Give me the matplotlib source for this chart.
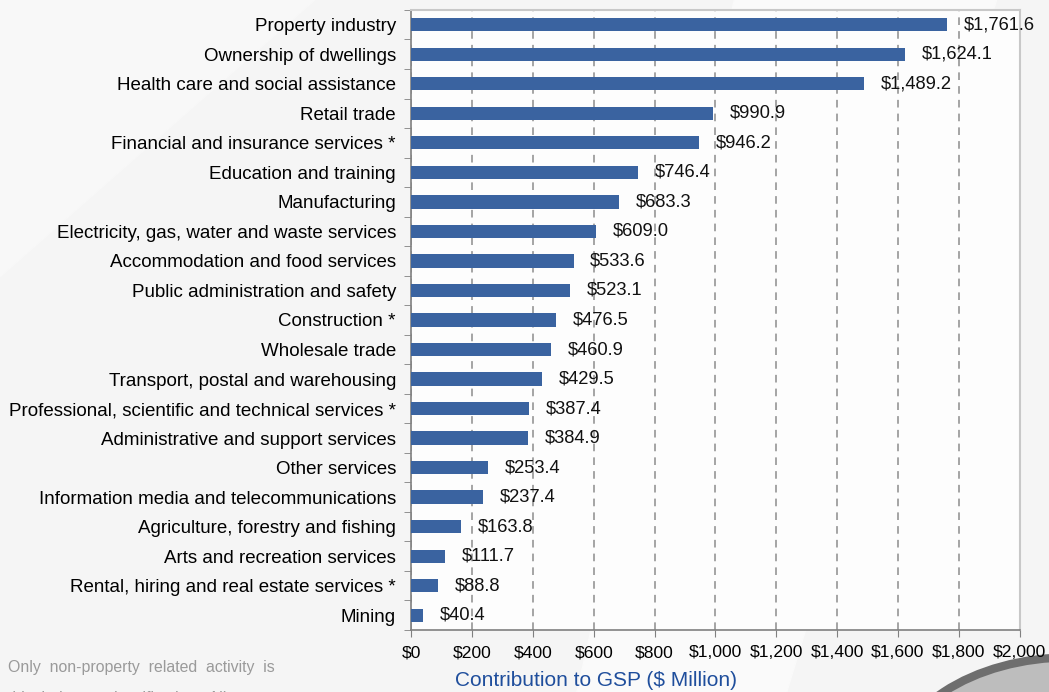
import matplotlib.pyplot as plt
import numpy as np
from matplotlib.patches import Circle

# industries, top of the chart first
industries = [
    "Property industry",
    "Ownership of dwellings",
    "Health care and social assistance",
    "Retail trade",
    "Financial and insurance services *",
    "Education and training",
    "Manufacturing",
    "Electricity, gas, water and waste services",
    "Accommodation and food services",
    "Public administration and safety",
    "Construction *",
    "Wholesale trade",
    "Transport, postal and warehousing",
    "Professional, scientific and technical services *",
    "Administrative and support services",
    "Other services",
    "Information media and telecommunications",
    "Agriculture, forestry and fishing",
    "Arts and recreation services",
    "Rental, hiring and real estate services *",
    "Mining",
]
gsp = [1761.6, 1624.1, 1489.2, 990.9, 946.2, 746.4, 683.3, 609.0, 533.6, 523.1,
       476.5, 460.9, 429.5, 387.4, 384.9, 253.4, 237.4, 163.8, 111.7, 88.8, 40.4]
xticks = list(range(0, 2001, 200))
xticklabels = ["${:,}".format(v) for v in xticks]

plt.rcParams['font.family'] = ['Liberation Sans', 'DejaVu Sans']

fig = plt.figure(figsize=(10.49, 6.92), dpi=100)
fig.patch.set_facecolor('#f5f5f5')

# faint background shapes
bg = fig.add_axes([0, 0, 1, 1], zorder=-5)
bg.set_xlim(0, 1)
bg.set_ylim(0, 1)
bg.axis('off')
bg.fill([0.55, 0.75, 0.95, 0.7], [0.0, 0.0, 1.0, 1.0], color='#fafafa', zorder=0)
bg.fill([0.0, 0.3, 0.15, 0.0], [0.6, 1.0, 1.0, 1.0], color='#f8f8f8', zorder=0)
bg.add_patch(Circle((1.02, -0.12), 0.17, transform=bg.transAxes, facecolor='#bdbdbd',
                    edgecolor='#6e6e6e', lw=6, zorder=1))

ax = fig.add_axes([0.392, 0.0896, 0.58, 0.896])
ax.set_facecolor('#fdfdfd')

fs = 13.2
y = np.arange(len(industries))
ax.barh(y, gsp, height=0.45, color='#3a63a0', zorder=3)
for yi, v in zip(y, gsp):
    ax.text(v + 55, yi, "${:,.1f}".format(v), va='center', ha='left',
            fontsize=fs, color='#111111', zorder=4)

ax.set_xlim(0, 2000)
ax.set_ylim(len(industries) - 0.5, -0.5)
ax.set_xticks(xticks)
ax.set_xticklabels(xticklabels, fontsize=12.6)
ax.set_yticks(y)
ax.set_yticklabels(industries, fontsize=13.5)
ax.set_yticks(np.arange(-0.5, len(industries), 1), minor=True)
ax.tick_params(axis='y', which='major', length=0, pad=11)
ax.tick_params(axis='y', which='minor', length=5, color='#808080')
ax.tick_params(axis='x', length=5, color='#808080', pad=6)

ax.grid(axis='x', color='#8c8c8c', linestyle=(0, (5, 4)), linewidth=1.1, zorder=1)
for s in ['left', 'bottom']:
    ax.spines[s].set_color('#808080')
    ax.spines[s].set_linewidth(1.2)
for s in ['top', 'right']:
    ax.spines[s].set_color('#c8c8c8')
    ax.spines[s].set_linewidth(1.5)

fig.text(0.568, 0.016, "Contribution to GSP ($ Million)", ha='center', va='center',
         fontsize=15, color='#1f4e9c')

# footnote, cut off by the bottom edge like the original
fig.text(0.008, 0.035, "Only  non-property  related  activity  is", ha='left', va='center',
         fontsize=11.4, color='#9a9a9a')
fig.text(0.008, -0.010, "this  industry  classification.  All  property", ha='left', va='center',
         fontsize=11.4, color='#9a9a9a')

fig.savefig('out.png', dpi=100, facecolor=fig.get_facecolor())
